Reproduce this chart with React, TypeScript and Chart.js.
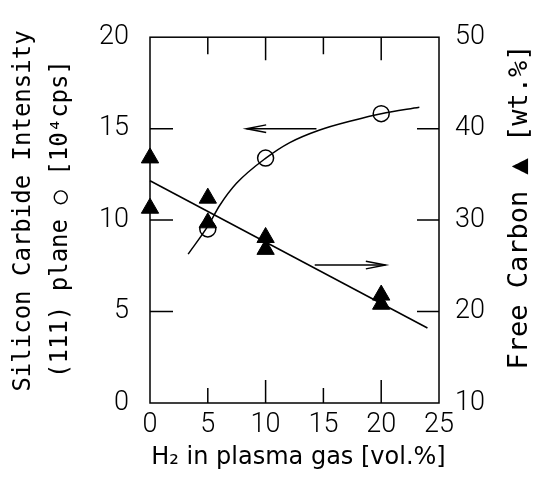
import React, { useEffect, useRef } from "react";
import { Chart, registerables } from "chart.js";

Chart.register(...registerables);

// ---- data ----
const circleX = [5, 10, 20];
const circleY = [9.52, 13.39, 15.82];

const curveX = [3.3, 5.03, 6.04, 7.48, 10.02, 12.09, 14.68, 17.55, 20, 23.3];
const curveY = [8.14, 9.7, 10.81, 12.01, 13.39, 14.24, 14.93, 15.45, 15.82, 16.17];

const triX = [0, 0, 5, 5, 10, 10, 20, 20];
const triY = [36.8, 31.3, 32.4, 29.7, 28.1, 26.8, 21.8, 20.8];

const fitX = [0, 24];
const fitY = [34.3, 18.2];

const arrowLeftX = [14.4, 8.35];
const arrowLeftY = [15, 15];
const arrowRightX = [14.25, 20.37];
const arrowRightY = [7.54, 7.54];

const xTicks = [0, 5, 10, 15, 20, 25];
const yTicks = [0, 5, 10, 15, 20];
const y2Ticks = [10, 20, 30, 40, 50];

const xTickMarks = [5, 10, 15, 20];
const yTickMarks = [5, 10, 15];
const y2TickMarks = [20, 30, 40];

const xTitle = "H\u2082 in plasma gas [vol.%]";
const yTitle = ["Silicon Carbide Intensity", "(111) plane \u25CB [10\u2074cps]"];
const y2Title = "Free Carbon \u25B2 [wt.%]";

const pts = (xs: number[], ys: number[]) => xs.map((x, i) => ({ x, y: ys[i] }));

const tickFont = { family: "Roboto, 'Liberation Sans', sans-serif", size: 27, weight: "300" as any };

const decor = {
  id: "decor",
  afterDatasetsDraw(chart: any) {
    const { ctx, chartArea: a, scales } = chart;
    const sx = scales.x, sy = scales.y, sy2 = scales.y2;
    ctx.save();
    ctx.strokeStyle = "#000";
    ctx.lineWidth = 1.5;
    ctx.strokeRect(a.left, a.top, a.right - a.left, a.bottom - a.top);
    ctx.beginPath();
    xTickMarks.forEach((v) => {
      const px = sx.getPixelForValue(v);
      const major = v % 10 === 0;
      ctx.moveTo(px, a.bottom);
      ctx.lineTo(px, a.bottom - (major ? 23 : 15));
      ctx.moveTo(px, a.top);
      ctx.lineTo(px, a.top + (major ? 23 : 17));
    });
    yTickMarks.forEach((v) => {
      const py = sy.getPixelForValue(v);
      ctx.moveTo(a.left, py);
      ctx.lineTo(a.left + 23, py);
    });
    y2TickMarks.forEach((v) => {
      const py = sy2.getPixelForValue(v);
      ctx.moveTo(a.right, py);
      ctx.lineTo(a.right - 22, py);
    });
    ctx.stroke();

    // arrowheads
    [4, 5].forEach((i) => {
      const d = chart.getDatasetMeta(i).data;
      const e = d[d.length - 1];
      const s = d[d.length - 2];
      const ang = Math.atan2(e.y - s.y, e.x - s.x);
      const L = 20;
      ctx.beginPath();
      ctx.moveTo(e.x - L * Math.cos(ang - 0.19), e.y - L * Math.sin(ang - 0.19));
      ctx.lineTo(e.x, e.y);
      ctx.lineTo(e.x - L * Math.cos(ang + 0.19), e.y - L * Math.sin(ang + 0.19));
      ctx.stroke();
    });

    // titles
    ctx.fillStyle = "#000";
    ctx.textAlign = "center";
    ctx.textBaseline = "middle";
    ctx.font = "24px 'DejaVu Sans'";
    ctx.fillText(xTitle, (a.left + a.right) / 2 + 4, 458);

    ctx.font = "24px 'DejaVu Sans Mono'";
    ctx.save();
    ctx.translate(24, 211);
    ctx.rotate(-Math.PI / 2);
    ctx.fillText(yTitle[0], 0, 0);
    ctx.restore();
    ctx.save();
    ctx.translate(61, 219);
    ctx.rotate(-Math.PI / 2);
    ctx.fillText(yTitle[1], 0, 0);
    ctx.restore();

    ctx.font = "27px 'DejaVu Sans Mono'";
    ctx.save();
    ctx.translate(520, 207);
    ctx.rotate(-Math.PI / 2);
    ctx.fillText(y2Title, 0, 0);
    ctx.restore();
    ctx.restore();
  },
};

export default function App() {
  const ref = useRef<HTMLCanvasElement>(null);
  useEffect(() => {
    if (!ref.current) return;
    const lineBase = { showLine: true, pointRadius: 0, borderColor: "#000", borderWidth: 1.5, fill: false, clip: false as any };
    const chart = new Chart(ref.current, {
      type: "scatter",
      data: {
        datasets: [
          {
            label: "SiC (111)",
            data: pts(circleX, circleY),
            yAxisID: "y",
            pointStyle: "circle",
            pointRadius: 8,
            pointBorderWidth: 1.5,
            pointBorderColor: "#000",
            pointBackgroundColor: "rgba(0,0,0,0)",
            showLine: false,
            clip: false as any,
          },
          { label: "curve", data: pts(curveX, curveY), yAxisID: "y", ...lineBase, tension: 0.4, cubicInterpolationMode: "monotone" },
          {
            label: "Free carbon",
            data: pts(triX, triY),
            yAxisID: "y2",
            pointStyle: "triangle",
            pointRadius: 10,
            pointBorderWidth: 1,
            pointBorderColor: "#000",
            pointBackgroundColor: "#000",
            showLine: false,
            clip: false as any,
          },
          { label: "fit", data: pts(fitX, fitY), yAxisID: "y2", ...lineBase },
          { label: "arrowL", data: pts(arrowLeftX, arrowLeftY), yAxisID: "y", ...lineBase },
          { label: "arrowR", data: pts(arrowRightX, arrowRightY), yAxisID: "y", ...lineBase },
        ],
      },
      options: {
        animation: false,
        responsive: false,
        layout: { padding: { top: 15, left: 0, right: 0, bottom: 0 } },
        plugins: { legend: { display: false }, tooltip: { enabled: false } },
        scales: {
          x: {
            type: "linear",
            min: 0,
            max: 25,
            afterBuildTicks: (s: any) => { s.ticks = xTicks.map((v) => ({ value: v })); },
            afterFit: (s: any) => { s.height = 81; },
            grid: { display: false, drawTicks: false },
            border: { display: false },
            ticks: { color: "#000", font: tickFont, padding: 6, maxRotation: 0, autoSkip: false },
          },
          y: {
            type: "linear",
            position: "left",
            min: 0,
            max: 20,
            afterBuildTicks: (s: any) => { s.ticks = yTicks.map((v) => ({ value: v })); },
            afterFit: (s: any) => { s.width = 150; },
            grid: { display: false, drawTicks: false },
            border: { display: false },
            ticks: { color: "#000", font: tickFont, padding: 21, autoSkip: false },
          },
          y2: {
            type: "linear",
            position: "right",
            min: 10,
            max: 50,
            afterBuildTicks: (s: any) => { s.ticks = y2Ticks.map((v) => ({ value: v })); },
            afterFit: (s: any) => { s.width = 104; },
            grid: { display: false, drawTicks: false },
            border: { display: false },
            ticks: { color: "#000", font: tickFont, padding: 16, autoSkip: false },
          },
        },
      },
      plugins: [decor],
    } as any);
    return () => chart.destroy();
  }, []);
  return (
    <div style={{ position: "fixed", left: 0, top: 0, width: 543, height: 484, background: "#fff" }}>
      <canvas ref={ref} width={543} height={484} style={{ display: "block" }} />
    </div>
  );
}
